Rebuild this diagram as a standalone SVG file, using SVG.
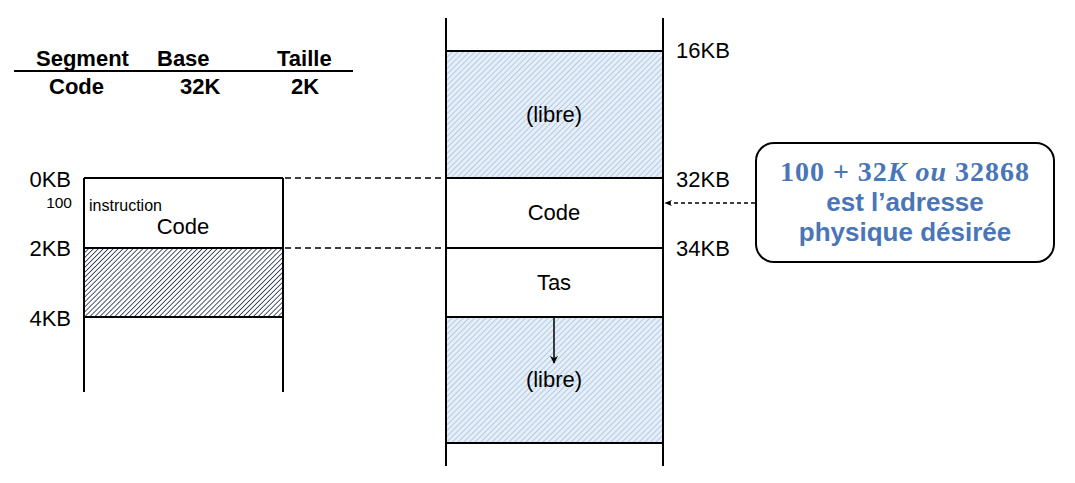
<svg xmlns="http://www.w3.org/2000/svg" width="1075" height="483" viewBox="0 0 1075 483">
<style>
text{font-family:"Liberation Sans",Arial,sans-serif;fill:#000}
.t{font-size:22px}
.b{font-weight:bold}
.m{stroke:#000;stroke-width:2;fill:none}
.d{stroke:#000;stroke-width:1.5;stroke-dasharray:6 4;fill:none}
.c{fill:#4a76b8;font-weight:bold;font-size:26px}
</style>
<defs>
<pattern id="hd" width="3.5" height="3.5" patternUnits="userSpaceOnUse" patternTransform="rotate(45)">
<rect width="3.5" height="3.5" fill="#fff"/>
<line x1="0" y1="0" x2="0" y2="3.5" stroke="#1e2a48" stroke-width="1.6"/>
</pattern>
<pattern id="hb" width="4" height="4" patternUnits="userSpaceOnUse" patternTransform="rotate(45)">
<rect width="4" height="4" fill="#e6eef8"/>
<line x1="0" y1="0" x2="0" y2="4" stroke="#a8c3e4" stroke-width="1.6"/>
</pattern>
<marker id="ah" viewBox="0 0 10 10" refX="9" refY="5" markerWidth="8" markerHeight="8" markerUnits="userSpaceOnUse" orient="auto">
<path d="M0,0 L10,5 L0,10 L3,5 Z" fill="#000"/>
</marker>
<marker id="ahs" viewBox="0 0 10 10" refX="9" refY="5" markerWidth="8" markerHeight="8" markerUnits="userSpaceOnUse" orient="auto">
<path d="M0,1 L10,5 L0,9 L3,5 Z" fill="#000"/>
</marker>
</defs>

<g id="table">
<text class="t b" x="36" y="66">Segment</text>
<text class="t b" x="157" y="66">Base</text>
<text class="t b" x="277" y="66">Taille</text>
<line x1="14" y1="71" x2="353" y2="71" stroke="#000" stroke-width="2"/>
<text class="t b" x="49" y="94">Code</text>
<text class="t b" x="180" y="94">32K</text>
<text class="t b" x="291" y="94">2K</text>
</g>

<g id="virtual-memory">
<rect x="84" y="248" width="199" height="69" fill="url(#hd)"/>
<line class="m" x1="84" y1="178" x2="84" y2="392"/>
<line class="m" x1="283" y1="178" x2="283" y2="392"/>
<line class="m" x1="84" y1="178" x2="283" y2="178"/>
<line class="m" x1="84" y1="248" x2="283" y2="248"/>
<line class="m" x1="84" y1="317" x2="283" y2="317"/>
<text class="t" x="71" y="187" text-anchor="end">0KB</text>
<text x="72" y="208" font-size="15.5" text-anchor="end">100</text>
<text x="89" y="211" font-size="16">instruction</text>
<text class="t" x="183" y="234" text-anchor="middle">Code</text>
<text class="t" x="71" y="256" text-anchor="end">2KB</text>
<text class="t" x="71" y="326" text-anchor="end">4KB</text>
</g>

<g id="physical-memory">
<rect x="446" y="51" width="217" height="127" fill="url(#hb)"/>
<rect x="446" y="317" width="217" height="126" fill="url(#hb)"/>
<line class="m" x1="446" y1="18" x2="446" y2="466"/>
<line class="m" x1="663" y1="18" x2="663" y2="466"/>
<line class="m" x1="446" y1="51" x2="663" y2="51"/>
<line class="m" x1="446" y1="178" x2="663" y2="178"/>
<line class="m" x1="446" y1="248" x2="663" y2="248"/>
<line class="m" x1="446" y1="317" x2="663" y2="317"/>
<line class="m" x1="446" y1="443" x2="663" y2="443"/>
<text class="t" x="554" y="122" text-anchor="middle">(libre)</text>
<text class="t" x="554" y="220" text-anchor="middle">Code</text>
<text class="t" x="554" y="290" text-anchor="middle">Tas</text>
<text class="t" x="554" y="387" text-anchor="middle">(libre)</text>
<text class="t" x="676" y="58">16KB</text>
<text class="t" x="676" y="187">32KB</text>
<text class="t" x="676" y="256">34KB</text>
</g>

<g id="callout">
<rect x="756" y="143" width="298" height="119" rx="18" ry="18" fill="#fff" stroke="#000" stroke-width="2"/>
<text class="c" x="905" y="181" text-anchor="middle" font-size="28" letter-spacing="1" style="font-family:'Liberation Serif','DejaVu Serif',serif;font-size:28px">100 + 32<tspan font-style="italic">K</tspan> <tspan font-style="italic">ou</tspan> 32868</text>
<text class="c" x="905" y="211" text-anchor="middle">est l’adresse</text>
<text class="c" x="905" y="241" text-anchor="middle">physique désirée</text>
</g>

<g id="connectors">
<line class="d" x1="285" y1="178" x2="445" y2="178"/>
<line class="d" x1="285" y1="248" x2="445" y2="248"/>
<line x1="554" y1="318" x2="554" y2="363" stroke="#000" stroke-width="1.5" marker-end="url(#ah)"/>
<line x1="755" y1="203" x2="665" y2="203" stroke="#000" stroke-width="1.5" stroke-dasharray="4 3" marker-end="url(#ahs)"/>
</g>
</svg>
